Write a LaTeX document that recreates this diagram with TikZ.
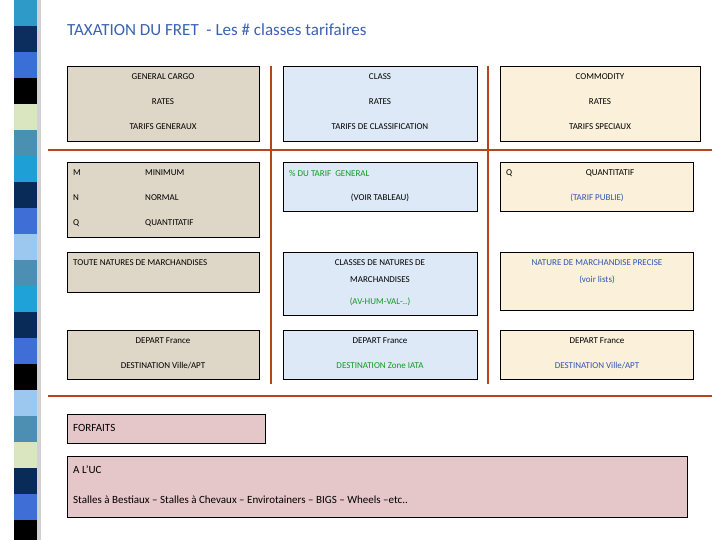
\documentclass[tikz,border=0pt]{standalone}
\usepackage{fontspec}
\setmainfont{Carlito}
\usepackage[dvipsnames]{xcolor}
\definecolor{rule}{HTML}{B8441E}
\definecolor{tanbg}{HTML}{DED6C6}
\definecolor{bluebg}{HTML}{DDE9F6}
\definecolor{creambg}{HTML}{FBF0DA}
\definecolor{pinkbg}{HTML}{E5C6C9}
\definecolor{titleblue}{HTML}{3A62B0}
\definecolor{gtxt}{HTML}{109A20}
\definecolor{btxt}{HTML}{2E55B5}
\begin{document}
\begin{tikzpicture}[x=1pt,y=-1pt,
  box/.style={draw, line width=0.8pt, anchor=north west, inner sep=0pt},
  txt/.style={font=\fontsize{9}{10}\selectfont, inner sep=0pt},
  lt/.style={txt, anchor=west}]
\useasboundingbox (0,0) rectangle (720,540);
% left strip
\fill[gray!35] (37,0) rectangle (41,540);
\foreach \c [count=\i from 0] in {2E9AC8,0B2E5E,3B6FD8,000000,D9E6C0,4A90B0,1EA0D6,082B58,3E6ED6,9CC8F0,4C8FB2,1FA2D8,082B58,3E6ED6,000000,9CC8F0,4C8FB2,D9E6C0,082B58,3E6ED6,000000}
  {\definecolor{sc}{HTML}{\c}\fill[sc] (14,\i*26) rectangle (37,\i*26+26);}
% title
\node[anchor=west, inner sep=0pt, text=titleblue, font=\fontsize{17}{18}\selectfont] (title) at (67,30) {TAXATION DU FRET\ \ - Les \# classes tarifaires};
% rules
\draw[rule, line width=2pt] (48,150) coordinate (h1a) -- (712,150) coordinate (h1b);
\draw[rule, line width=2pt] (48,396) coordinate (h2a) -- (712,396) coordinate (h2b);
\draw[rule, line width=2pt] (271,66) coordinate (v1a) -- (271,384) coordinate (v1b);
\draw[rule, line width=2pt] (488,66) coordinate (v2a) -- (488,384) coordinate (v2b);
% boxes
\node[box, fill=tanbg, minimum width=192pt, minimum height=75pt] (gen) at (67,66) {};
\node[box, fill=bluebg, minimum width=194pt, minimum height=75pt] (cls) at (283,66) {};
\node[box, fill=creambg, minimum width=200pt, minimum height=75pt] (com) at (500,66) {};
\node[box, fill=tanbg, minimum width=192pt, minimum height=75pt] (genb) at (67,162) {};
\node[box, fill=bluebg, minimum width=194pt, minimum height=49pt] (clsb) at (283,162) {};
\node[box, fill=creambg, minimum width=193pt, minimum height=49pt] (comb) at (500,162) {};
\node[box, fill=tanbg, minimum width=192pt, minimum height=40pt] (genc) at (67,252) {};
\node[box, fill=bluebg, minimum width=194pt, minimum height=63pt] (clsc) at (283,252) {};
\node[box, fill=creambg, minimum width=193pt, minimum height=58pt] (comc) at (500,252) {};
\node[box, fill=tanbg, minimum width=192pt, minimum height=49pt] (gend) at (67,330) {};
\node[box, fill=bluebg, minimum width=194pt, minimum height=49pt] (clsd) at (283,330) {};
\node[box, fill=creambg, minimum width=193pt, minimum height=49pt] (comd) at (500,330) {};
\node[box, fill=pinkbg, minimum width=198pt, minimum height=29pt] (forf) at (67,414) {};
\node[box, fill=pinkbg, minimum width=620pt, minimum height=61pt] (uc) at (67,456) {};
% texts row 1
\node[txt] (g1) at (163,77) {GENERAL CARGO};
\node[txt] (g2) at (163,102) {RATES};
\node[txt] (g3) at (163,127) {TARIFS GENERAUX};
\node[txt] (c1) at (380,77) {CLASS};
\node[txt] (c2) at (380,102) {RATES};
\node[txt] (c3) at (380,127) {TARIFS DE CLASSIFICATION};
\node[txt] (s1) at (600,77) {COMMODITY};
\node[txt] (s2) at (600,102) {RATES};
\node[txt] (s3) at (600,127) {TARIFS SPECIAUX};
% row 2
\node[lt] (m) at (73,173) {M};
\node[lt] (mm) at (145,173) {MINIMUM};
\node[lt] (n) at (73,198) {N};
\node[lt] (nn) at (145,198) {NORMAL};
\node[lt] (q) at (73,223) {Q};
\node[lt] (qq) at (145,223) {QUANTITATIF};
\node[lt, text=gtxt] (pct) at (289,173) {\% DU TARIF\ \ GENERAL};
\node[txt] (voir) at (380,198) {(VOIR TABLEAU)};
\node[lt] (q2) at (506,173) {Q};
\node[txt] (qt2) at (610,173) {QUANTITATIF};
\node[txt, text=btxt] (pub) at (597,198) {(TARIF PUBLIE)};
% row 3
\node[lt] (toute) at (73,263) {TOUTE NATURES DE MARCHANDISES};
\node[txt] (cn1) at (380,263) {CLASSES DE NATURES DE};
\node[txt] (cn2) at (380,280) {MARCHANDISES};
\node[txt, text=gtxt] (cn3) at (380,302) {(AV-HUM-VAL-..)};
\node[txt, text=btxt] (np1) at (597,263) {NATURE DE MARCHANDISE PRECISE};
\node[txt, text=btxt] (np2) at (597,280) {(voir lists)};
% row 4
\node[txt] (d1) at (163,341) {DEPART France};
\node[txt] (d2) at (163,366) {DESTINATION Ville/APT};
\node[txt] (d3) at (380,341) {DEPART France};
\node[txt, text=gtxt] (d4) at (380,366) {DESTINATION Zone IATA};
\node[txt] (d5) at (597,341) {DEPART France};
\node[txt, text=btxt] (d6) at (597,366) {DESTINATION Ville/APT};
% forfaits
\node[lt, font=\fontsize{11}{12}\selectfont] (ft) at (73,428) {FORFAITS};
\node[lt, font=\fontsize{11}{12}\selectfont] (uct) at (73,470) {A L'UC};
\node[lt, font=\fontsize{11}{12}\selectfont] (st) at (73,500) {Stalles à Bestiaux -- Stalles à Chevaux -- Envirotainers -- BIGS -- Wheels --etc..};
\end{tikzpicture}
\end{document}
